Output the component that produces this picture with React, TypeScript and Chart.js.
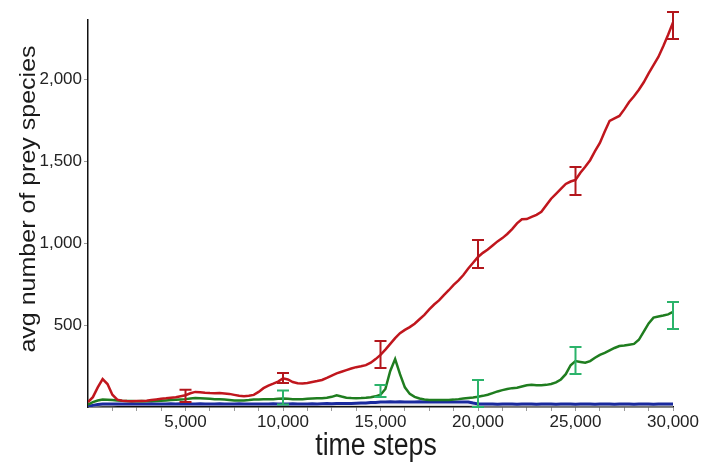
import React, { useEffect, useRef } from "react";
import { Chart, registerables } from "chart.js";

Chart.register(...registerables);

// time steps (x values)
const steps = [
  0, 250, 500, 750, 1000, 1250, 1500, 1750, 2000, 2250, 2500, 2750,
  3000, 3250, 3500, 3750, 4000, 4250, 4500, 4750, 5000, 5250, 5500, 5750,
  6000, 6250, 6500, 6750, 7000, 7250, 7500, 7750, 8000, 8250, 8500, 8750,
  9000, 9250, 9500, 9750, 10000, 10250, 10500, 10750, 11000, 11250, 11500, 11750,
  12000, 12250, 12500, 12750, 13000, 13250, 13500, 13750, 14000, 14250, 14500, 14750,
  15000, 15250, 15500, 15750, 16000, 16250, 16500, 16750, 17000, 17250, 17500, 17750,
  18000, 18250, 18500, 18750, 19000, 19250, 19500, 19750, 20000, 20250, 20500, 20750,
  21000, 21250, 21500, 21750, 22000, 22250, 22500, 22750, 23000, 23250, 23500, 23750,
  24000, 24250, 24500, 24750, 25000, 25250, 25500, 25750, 26000, 26250, 26500, 26750,
  27000, 27250, 27500, 27750, 28000, 28250, 28500, 28750, 29000, 29250, 29500, 29750,
  30000,
];

const redSeries = [
  30, 60, 120, 170, 140, 75, 45, 38, 36, 35, 36, 37,
  38, 42, 46, 50, 53, 57, 60, 66, 72, 84, 92, 90,
  87, 85, 84, 86, 83, 80, 74, 68, 66, 68, 74, 92,
  115, 130, 142, 155, 175, 168, 152, 145, 143, 146, 152, 158,
  165, 178, 192, 205, 215, 225, 235, 243, 248, 255, 270, 292,
  318, 350, 385, 420, 450, 470, 487, 508, 535, 562, 595, 625,
  650, 682, 712, 745, 772, 805, 845, 880, 915, 940, 960, 985,
  1010, 1030, 1055, 1085, 1120, 1145, 1146, 1160, 1172, 1190, 1230, 1270,
  1300, 1330, 1360, 1375, 1385, 1428, 1465, 1505, 1560, 1610, 1680, 1745,
  1760, 1775, 1815, 1860, 1895, 1935, 1980, 2035, 2085, 2135, 2200, 2270,
  2345,
];

const greenSeries = [
  15, 30, 40, 45, 44, 42, 40, 38, 37, 36, 35, 36,
  35, 36, 37, 38, 40, 42, 44, 46, 48, 52, 55, 54,
  52, 50, 48, 47, 45, 43, 40, 39, 40, 42, 45, 46,
  47, 47, 48, 50, 52, 50, 48, 47, 48, 50, 52, 53,
  54, 56, 62, 72, 64, 57, 55, 54, 55, 57, 60, 65,
  75, 110, 220, 292, 200, 120, 80, 62, 52, 46, 43, 42,
  42, 42, 43, 45, 48, 52, 55, 58, 62, 68, 75, 85,
  95, 103, 110, 115, 118, 125, 132, 135, 133, 132, 135, 140,
  150, 168, 200, 255, 280, 275, 270, 280, 300, 318, 330, 345,
  360, 372, 375, 380, 385, 410, 460, 510, 545, 552, 558, 565,
  580,
];

const blueSeries = [
  5, 10, 15, 18, 19, 18, 19, 18, 19, 20, 19, 18,
  19, 20, 19, 18, 19, 20, 19, 20, 19, 18, 19, 20,
  19, 18, 19, 20, 19, 18, 19, 20, 19, 18, 19, 19,
  18, 19, 20, 19, 18, 19, 20, 19, 18, 19, 20, 19,
  20, 21, 20, 21, 22, 21, 22, 23, 24, 25, 27, 28,
  30, 31, 32, 31, 32, 31, 30, 31, 32, 31, 30, 31,
  32, 31, 32, 31, 30, 31, 30, 24, 19, 18, 19, 18,
  17, 18, 19, 18, 17, 18, 19, 18, 17, 18, 19, 18,
  17, 18, 19, 18, 17, 18, 19, 18, 17, 18, 19, 18,
  17, 18, 19, 18, 17, 18, 19, 18, 17, 18, 19, 18,
  18,
];

const graySeries = [
  4, 6, 8, 9, 9, 9, 10, 10, 10, 10, 10, 10,
  10, 10, 10, 10, 10, 10, 10, 10, 10, 10, 10, 10,
  10, 10, 10, 10, 10, 10, 10, 10, 10, 10, 10, 10,
  10, 10, 10, 10, 10, 10, 10, 10, 10, 10, 10, 10,
  10, 10, 10, 10, 10, 10, 10, 10, 10, 10, 10, 10,
  10, 10, 10, 10, 10, 10, 10, 10, 10, 10, 10, 10,
  10, 10, 10, 10, 10, 10, 10, 9, 8, 8, 8, 8,
  8, 8, 8, 8, 8, 8, 8, 8, 8, 8, 8, 8,
  8, 8, 8, 8, 8, 8, 8, 8, 8, 8, 8, 8,
  8, 8, 8, 8, 8, 8, 8, 8, 8, 8, 8, 8,
  8,
];

// error bars
const errorSteps = [5000, 10000, 15000, 20000, 25000, 30000];
const redErrLow = [30, 147, 238, 848, 1293, 2244];
const redErrHigh = [105, 207, 402, 1018, 1463, 2409];
const greenErrSteps = [10000, 15000, 20000, 25000, 30000];
const greenErrLow = [15, 61, 0, 201, 475];
const greenErrHigh = [100, 134, 165, 366, 640];

// axis ticks
const xTickValues = [
  1250, 2500, 3750, 5000, 6250, 7500, 8750, 10000, 11250, 12500, 13750, 15000,
  16250, 17500, 18750, 20000, 21250, 22500, 23750, 25000, 26250, 27500, 28750, 30000,
];
const xLabelValues = [5000, 10000, 15000, 20000, 25000, 30000];
const yTickValues = [500, 1000, 1500, 2000];

const xTitle = "time steps";
const yTitle = "avg number of prey species";

const FONT = '"Liberation Sans", Arial, sans-serif';

const fmt = (v: number) => v.toLocaleString("en-US");

const pts = (vals: number[]) => vals.map((v, i) => ({ x: steps[i], y: v }));

const errorBarPlugin = {
  id: "errorBars",
  afterDatasetsDraw(chart: any) {
    const { ctx, scales } = chart;
    const xs = scales.x;
    const ys = scales.y;
    const drawSet = (xv: number[], lo: number[], hi: number[], color: string) => {
      ctx.save();
      ctx.strokeStyle = color;
      ctx.lineWidth = 2;
      const cap = 6;
      xv.forEach((x, i) => {
        const px = xs.getPixelForValue(x);
        const py1 = ys.getPixelForValue(lo[i]);
        const py2 = ys.getPixelForValue(hi[i]);
        ctx.beginPath();
        ctx.moveTo(px, py1);
        ctx.lineTo(px, py2);
        ctx.moveTo(px - cap, py1);
        ctx.lineTo(px + cap, py1);
        ctx.moveTo(px - cap, py2);
        ctx.lineTo(px + cap, py2);
        ctx.stroke();
      });
      ctx.restore();
    };
    drawSet(greenErrSteps, greenErrLow, greenErrHigh, "#2bb36a");
    drawSet(errorSteps, redErrLow, redErrHigh, "#b3161c");
  },
};

const titlePlugin = {
  id: "axisTitles",
  afterDraw(chart: any) {
    const { ctx } = chart;
    ctx.save();
    ctx.fillStyle = "#1a1a1a";
    ctx.textAlign = "center";
    ctx.textBaseline = "alphabetic";
    // x title (slightly narrowed glyphs like the reference)
    ctx.save();
    ctx.font = `31px ${FONT}`;
    ctx.translate(376, 455);
    ctx.scale(0.86, 1);
    ctx.fillText(xTitle, 0, 0);
    ctx.restore();
    // y title, rotated
    ctx.save();
    ctx.font = `25px ${FONT}`;
    ctx.translate(35, 199);
    ctx.scale(0.88, 1);
    ctx.rotate(-Math.PI / 2);
    ctx.fillText(yTitle, 0, 0);
    ctx.restore();
    ctx.restore();
  },
};

export default function App() {
  const ref = useRef<HTMLCanvasElement | null>(null);

  useEffect(() => {
    if (!ref.current) return;
    const chart = new Chart(ref.current, {
      type: "line",
      data: {
        datasets: [
          {
            label: "red",
            data: pts(redSeries),
            borderColor: "#c0161d",
            borderWidth: 2.5,
            pointRadius: 0,
            tension: 0,
          },
          {
            label: "green",
            data: pts(greenSeries),
            borderColor: "#1f7d1f",
            borderWidth: 2.5,
            pointRadius: 0,
            tension: 0,
          },
          {
            label: "blue",
            data: pts(blueSeries),
            borderColor: "#1a2a9e",
            borderWidth: 3,
            pointRadius: 0,
            tension: 0,
          },
          {
            label: "gray",
            data: pts(graySeries),
            borderColor: "#d6d6d6",
            borderWidth: 1.5,
            pointRadius: 0,
            tension: 0,
          },
        ],
      },
      options: {
        responsive: false,
        animation: false,
        devicePixelRatio: 1,
        layout: { padding: { left: 0, top: 20, right: 31, bottom: 0 }, autoPadding: false },
        plugins: { legend: { display: false }, tooltip: { enabled: false } },
        scales: {
          x: {
            type: "linear",
            min: 0,
            max: 30000,
            afterBuildTicks: (s: any) => {
              s.ticks = xTickValues.map((v) => ({ value: v }));
            },
            afterFit: (s: any) => {
              s.height = 58;
            },
            ticks: {
              autoSkip: false,
              maxRotation: 0,
              padding: 1,
              color: "#222",
              font: { family: FONT, size: 17 },
              callback: (v: any) => (xLabelValues.includes(Number(v)) ? fmt(Number(v)) : ""),
            },
            grid: {
              display: true,
              drawOnChartArea: false,
              drawTicks: true,
              tickLength: 4,
              tickColor: "#9a9a9a",
              tickWidth: 1,
            },
            border: { display: true, color: "#111", width: 1.5 },
          },
          y: {
            type: "linear",
            min: 0,
            max: 2360,
            afterBuildTicks: (s: any) => {
              s.ticks = yTickValues.map((v) => ({ value: v }));
            },
            afterFit: (s: any) => {
              s.width = 88;
            },
            ticks: {
              autoSkip: false,
              padding: 2,
              color: "#222",
              font: { family: FONT, size: 17 },
              callback: (v: any) => fmt(Number(v)),
            },
            grid: {
              display: true,
              drawOnChartArea: false,
              drawTicks: true,
              tickLength: 4,
              tickColor: "#9a9a9a",
              tickWidth: 1,
            },
            border: { display: true, color: "#111", width: 1.5 },
          },
        },
      },
      plugins: [errorBarPlugin, titlePlugin],
    } as any);
    return () => chart.destroy();
  }, []);

  return (
    <div style={{ position: "absolute", left: 0, top: 0, width: 704, height: 465, background: "#fff" }}>
      <canvas ref={ref} width={704} height={465} style={{ display: "block" }} />
    </div>
  );
}
